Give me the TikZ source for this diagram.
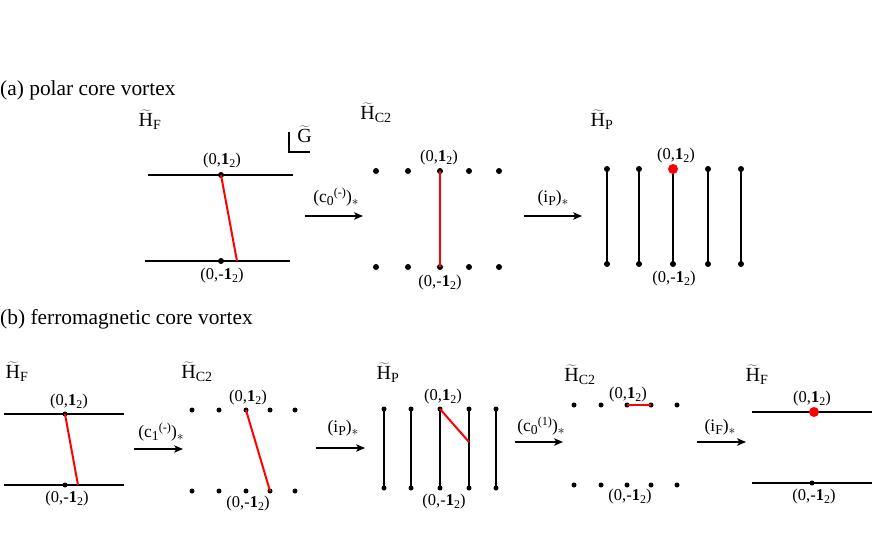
\documentclass[tikz,border=0pt]{standalone}
\usepackage{fontspec}
\usepackage{graphicx}
\setmainfont{Liberation Serif}
\usetikzlibrary{arrows.meta}
\tikzset{
  mydot/.style={circle,fill=black,inner sep=0pt,minimum size=6pt},
  smalldot/.style={circle,fill=black,inner sep=0pt,minimum size=5pt},
  reddot/.style={circle,fill=red,inner sep=0pt,minimum size=10pt},
  bline/.style={line width=1.3pt},
  rline/.style={red,line width=2pt},
  arr/.style={-{Stealth[length=9pt,width=7.5pt,inset=2.5pt]},line width=1.1pt},
  lab/.style={font=\fontsize{16.5}{19}\selectfont,inner sep=0pt},
  alab/.style={font=\fontsize{17.5}{20}\selectfont,inner sep=0pt},
  grp/.style={font=\fontsize{20}{24}\selectfont,inner sep=0pt},
  ttl/.style={font=\fontsize{21.4}{25}\selectfont,anchor=west,inner sep=0pt},
}
\newcommand{\lsb}[1]{\raisebox{-0.3ex}{\scalebox{0.72}{#1}}}
\newcommand{\asb}[1]{\raisebox{-0.35ex}{\scalebox{0.78}{#1}}}
\newcommand{\asp}[1]{\raisebox{0.8ex}{\scalebox{0.7}{#1}}}
\newcommand{\pone}{(0,\textbf{1}\lsb{2})}
\newcommand{\mone}{(0,-\textbf{1}\lsb{2})}
\newcommand{\HH}[1]{$\widetilde{\mathrm{H}}_{\mathrm{#1}}$}
\begin{document}
\begin{tikzpicture}[x=1pt,y=-1pt]
\useasboundingbox (0,0) rectangle (872,536);
% ---------------- (a) ----------------
\node[ttl] (ta) at (0,90) {(a) polar core vortex};
% F
\node[grp] (aFl) at (150,120) {\HH{F}};
\coordinate (aFt1) at (148,175); \coordinate (aFt2) at (293,175);
\coordinate (aFb1) at (145,261); \coordinate (aFb2) at (290,261);
\draw[bline] (aFt1) -- (aFt2);
\draw[bline] (aFb1) -- (aFb2);
\coordinate (aFr) at (237,261);
\node[mydot] (aFd1) at (221,175) {};
\node[mydot] (aFd2) at (221,261) {};
\draw[rline] (aFd1.center) -- (aFr);
\node[lab] (aFp) at (222,161) {\pone};
\node[lab] (aFm) at (222,276) {\mone};
% G corner
\coordinate (g1) at (289,132); \coordinate (g2) at (289,152); \coordinate (g3) at (310,152);
\draw[line width=1.1pt] (g1) -- (g2) -- (g3);
\node[grp] (gG) at (304.5,134) {$\widetilde{\mathrm{G}}$};
% arrow 1
\coordinate (aA1s) at (305,216); \coordinate (aA1e) at (363,216);
\draw[arr] (aA1s) -- (aA1e);
\node[alab] (aA1l) at (336,197) {(c\asb{0}\asp{(-)})\asb{$\ast$}};
% C2
\node[grp] (aCl) at (376,113) {\HH{C2}};
\foreach \i/\x in {1/376,2/408,3/440,4/469,5/499}{
  \node[mydot] (aCt\i) at (\x,171) {};
  \node[mydot] (aCb\i) at (\x,267) {};
}
\draw[rline] (aCt3.center) -- (aCb3.center);
\node[lab] (aCp) at (439,158) {\pone};
\node[lab] (aCm) at (440,283) {\mone};
% arrow 2
\coordinate (aA2s) at (524,216); \coordinate (aA2e) at (582,216);
\draw[arr] (aA2s) -- (aA2e);
\node[alab] (aA2l) at (553,198) {(i\asb{P})\asb{$\ast$}};
% P
\node[grp] (aPl) at (602,120) {\HH{P}};
\foreach \i/\x in {1/607,2/639,3/673,4/708,5/741}{
  \node[mydot] (aPt\i) at (\x,169) {};
  \node[mydot] (aPb\i) at (\x,264) {};
  \draw[bline] (aPt\i.center) -- (aPb\i.center);
}
\node[reddot] (aPr) at (aPt3) {};
\node[lab] (aPp) at (676,156) {\pone};
\node[lab] (aPm) at (674,279) {\mone};
% ---------------- (b) ----------------
\node[ttl] (tb) at (0,319) {(b) ferromagnetic core vortex};
% F
\node[grp] (bFl) at (17,372) {\HH{F}};
\coordinate (bFt1) at (4,414); \coordinate (bFt2) at (124,414);
\coordinate (bFb1) at (4,485); \coordinate (bFb2) at (124,485);
\draw[bline] (bFt1) -- (bFt2);
\draw[bline] (bFb1) -- (bFb2);
\node[smalldot] (bFd1) at (65,414) {};
\node[smalldot] (bFd2) at (65,485) {};
\coordinate (bFr) at (78,485);
\draw[rline] (bFd1.center) -- (bFr);
\node[lab] (bFp) at (69,402) {\pone};
\node[lab] (bFm) at (67,499) {\mone};
% arrow 1
\coordinate (bA1s) at (134,449); \coordinate (bA1e) at (183,449);
\draw[arr] (bA1s) -- (bA1e);
\node[alab] (bA1l) at (161,432) {(c\asb{1}\asp{(-)})\asb{$\ast$}};
% C2
\node[grp] (bCl) at (197,372) {\HH{C2}};
\foreach \i/\x in {1/192,2/219,3/246,4/270,5/295}{
  \node[smalldot] (bCt\i) at (\x,410) {};
  \node[smalldot] (bCb\i) at (\x,491) {};
}
\draw[rline] (bCt3.center) -- (bCb4.center);
\node[lab] (bCp) at (248,398) {\pone};
\node[lab] (bCm) at (248,504) {\mone};
% arrow 2
\coordinate (bA2s) at (316,448); \coordinate (bA2e) at (365,448);
\draw[arr] (bA2s) -- (bA2e);
\node[alab] (bA2l) at (343,428) {(i\asb{P})\asb{$\ast$}};
% P
\node[grp] (bPl) at (388,373) {\HH{P}};
\foreach \i/\x in {1/384,2/411,3/440,4/469,5/496}{
  \node[smalldot] (bPt\i) at (\x,409) {};
  \node[smalldot] (bPb\i) at (\x,488) {};
  \draw[bline] (bPt\i.center) -- (bPb\i.center);
}
\coordinate (bPr) at (469,442);
\draw[rline] (bPt3.center) -- (bPr);
\node[lab] (bPp) at (443,397) {\pone};
\node[lab] (bPm) at (444,502) {\mone};
% arrow 3
\coordinate (bA3s) at (515,442); \coordinate (bA3e) at (563,442);
\draw[arr] (bA3s) -- (bA3e);
\node[alab] (bA3l) at (541,426) {(c\asb{0}\asp{(1)})\asb{$\ast$}};
% C2 second
\node[grp] (bDl) at (580,375) {\HH{C2}};
\foreach \i/\x in {1/574,2/601,3/627,4/651,5/677}{
  \node[smalldot] (bDt\i) at (\x,405) {};
  \node[smalldot] (bDb\i) at (\x,485) {};
}
\draw[rline] (bDt3.center) -- (bDt4.center);
\node[lab] (bDp) at (628,395) {\pone};
\node[lab] (bDm) at (630,497) {\mone};
% arrow 4
\coordinate (bA4s) at (697,442); \coordinate (bA4e) at (746,442);
\draw[arr] (bA4s) -- (bA4e);
\node[alab] (bA4l) at (720,427) {(i\asb{F})\asb{$\ast$}};
% F second
\node[grp] (bGl) at (757,375) {\HH{F}};
\coordinate (bGt1) at (752,412); \coordinate (bGt2) at (872,412);
\coordinate (bGb1) at (752,483); \coordinate (bGb2) at (872,483);
\draw[bline] (bGt1) -- (bGt2);
\draw[bline] (bGb1) -- (bGb2);
\node[reddot] (bGd1) at (814,412) {};
\node[smalldot] (bGd2) at (812,483) {};
\node[lab] (bGp) at (812,399) {\pone};
\node[lab] (bGm) at (814,497) {\mone};
\end{tikzpicture}
\end{document}
